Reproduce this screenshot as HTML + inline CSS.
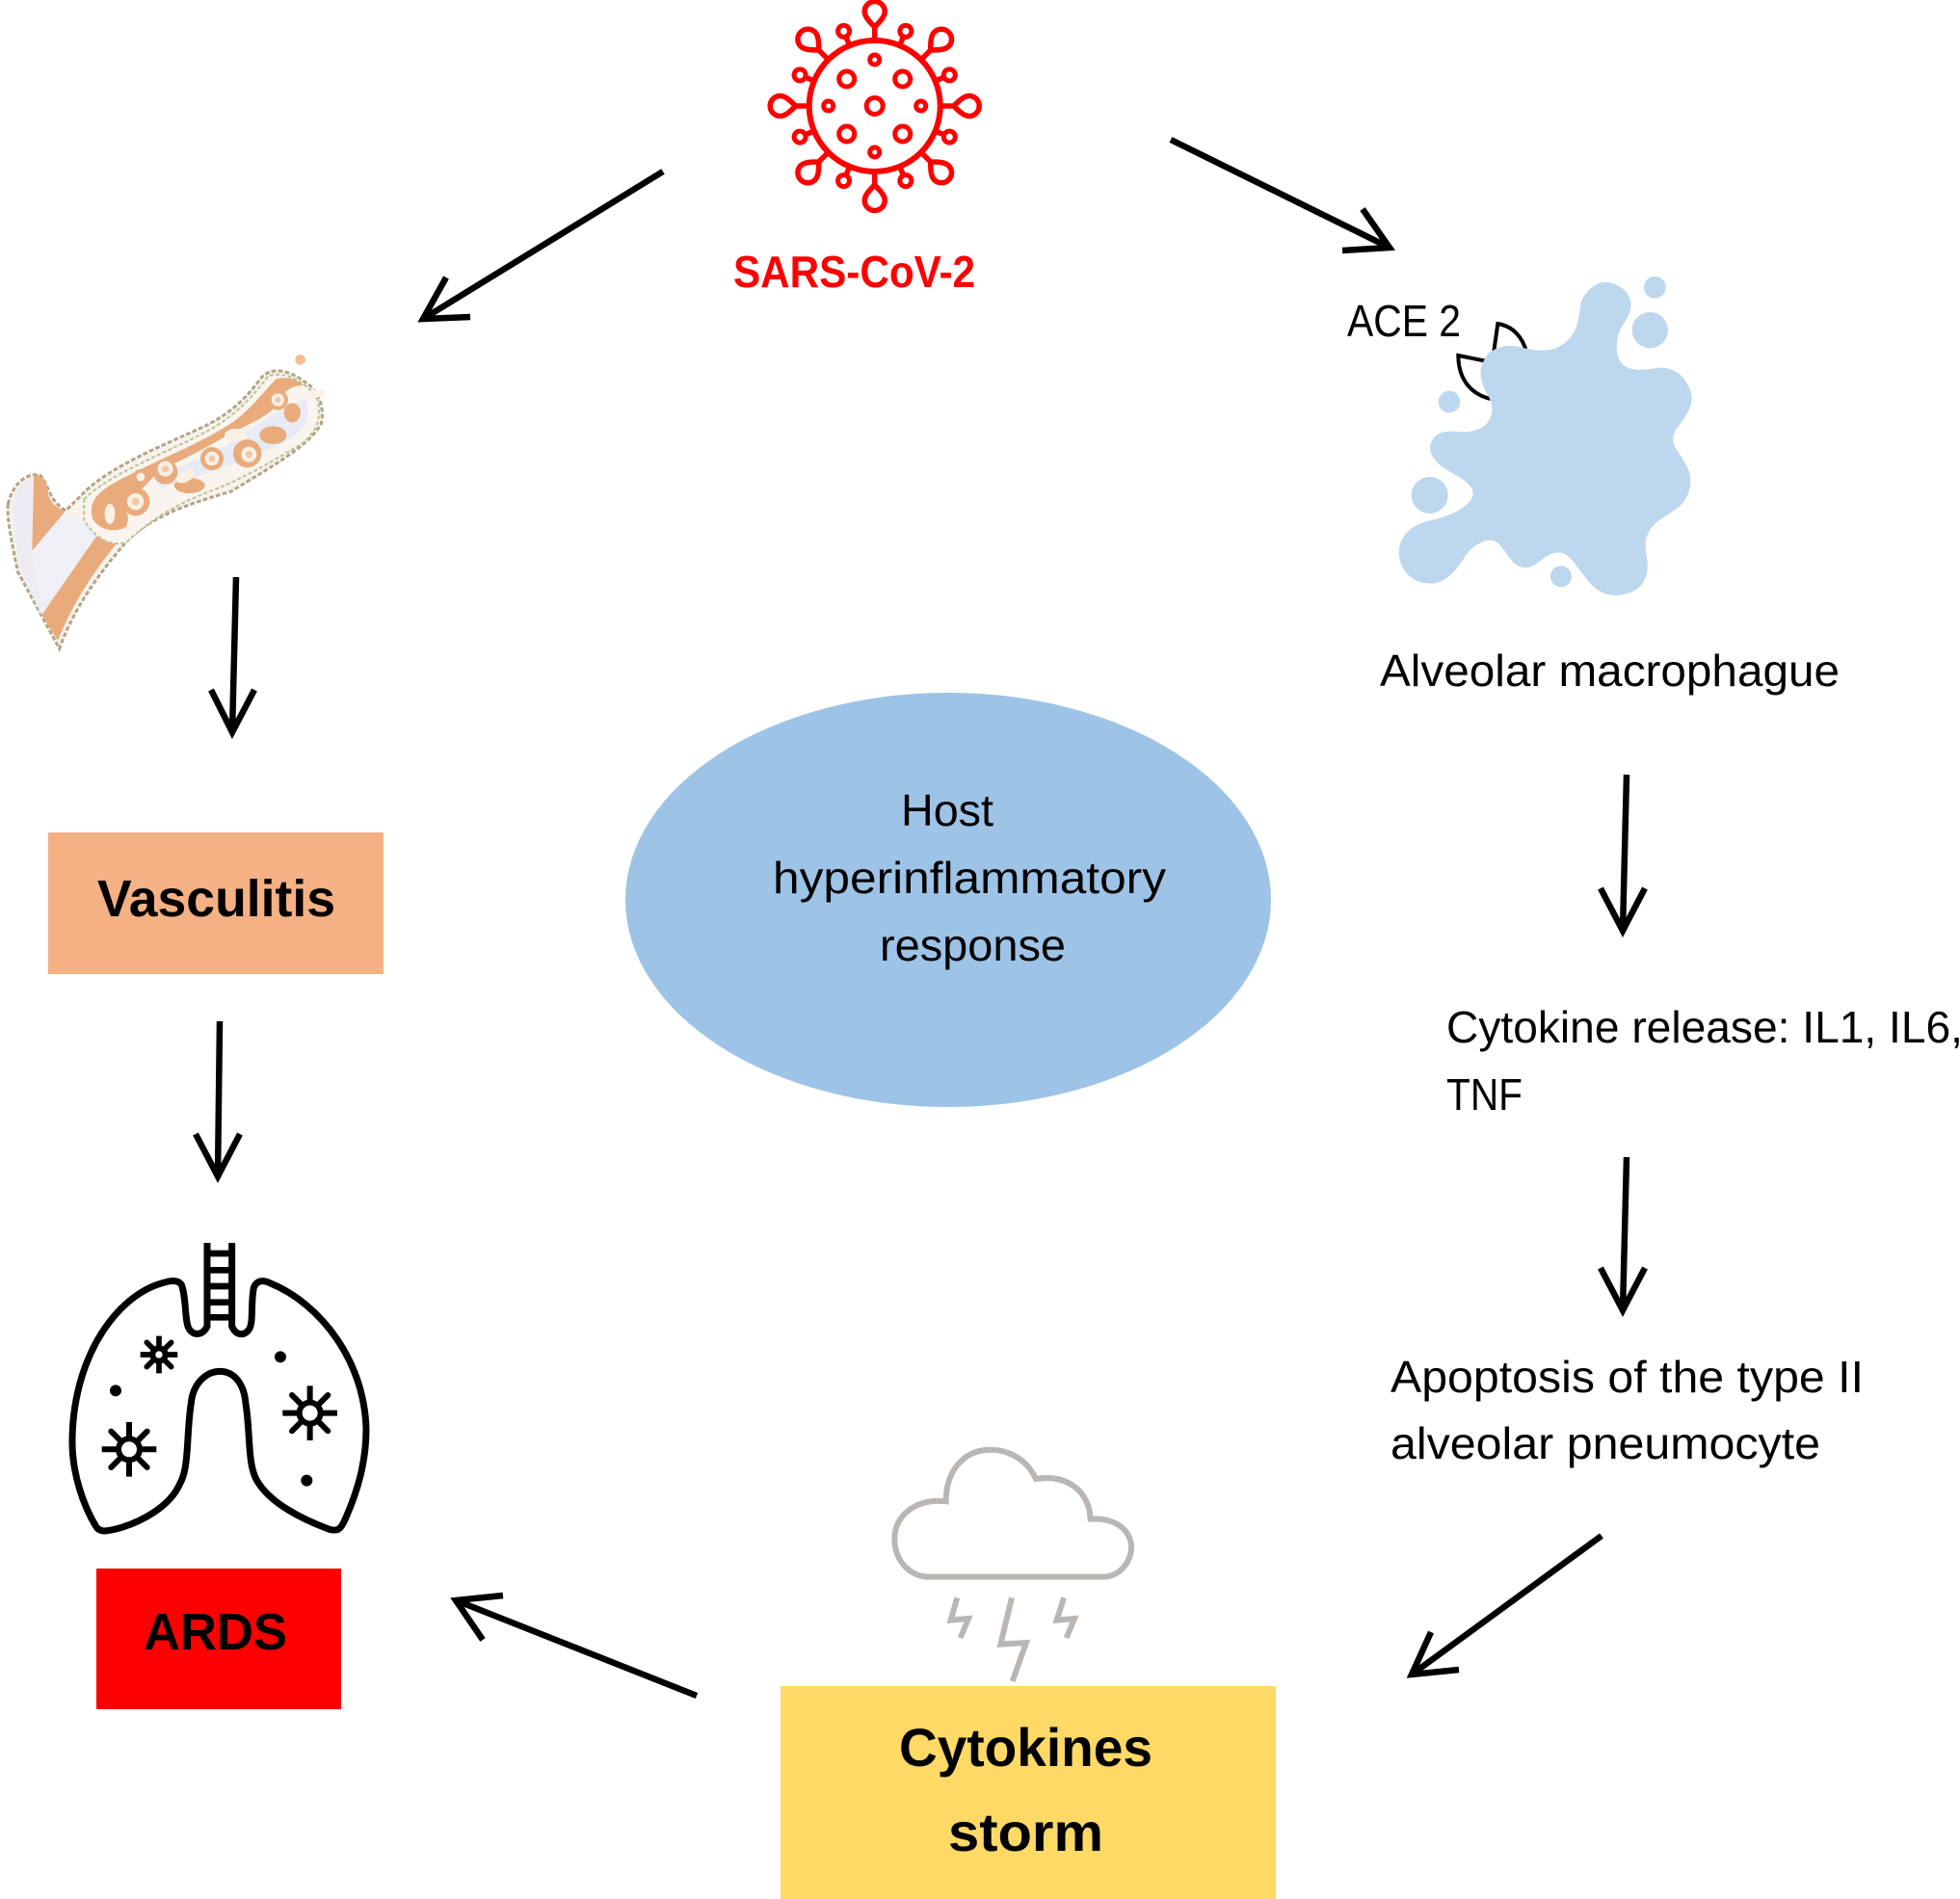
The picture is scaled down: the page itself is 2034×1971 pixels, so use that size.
<!DOCTYPE html>
<html><head><meta charset="utf-8"><style>html,body{margin:0;padding:0;background:#fff}svg{display:block}
text{font-family:"Liberation Sans",sans-serif;fill:#000}</style></head><body>
<svg width="2034" height="1971" viewBox="0 0 2034 1971" xmlns="http://www.w3.org/2000/svg">
<defs>
<g id="big"><path d="M0,-68V-82M0,-82C-6,-88 -10.5,-93 -10.5,-98A10 10 0 1 1 10.5,-98C10.5,-93 6,-88 0,-82Z" fill="none" stroke="#f00" stroke-width="5.5"/></g>
<g id="small"><path d="M0,-68V-78" stroke="#f00" stroke-width="5.5"/><circle cy="-84" r="6" fill="none" stroke="#f00" stroke-width="5"/></g>
<g id="germ" stroke="#000" fill="none"><path stroke-width="18" d="M0,-85V85M-85,0H85"/><path stroke-width="18" stroke-linecap="round" d="M-56,-56L56,56M-56,56L56,-56"/><circle r="42" fill="#000" stroke="none"/><circle r="24" fill="#fff" stroke="none"/></g>
<g id="germs" stroke="#000" fill="none"><path stroke-width="17" d="M0,-58V58M-58,0H58"/><path stroke-width="17" stroke-linecap="round" d="M-38,-38L38,38M-38,38L38,-38"/><circle r="29" fill="#000" stroke="none"/><circle r="11" fill="#fff" stroke="none"/></g>
</defs>
<rect width="2034" height="1971" fill="#fff"/>

<!-- virus -->
<g transform="translate(907.7,110)">
<circle r="68" fill="none" stroke="#f00" stroke-width="6"/>
<use href="#big"/><use href="#big" transform="rotate(45)"/><use href="#big" transform="rotate(90)"/><use href="#big" transform="rotate(135)"/><use href="#big" transform="rotate(180)"/><use href="#big" transform="rotate(225)"/><use href="#big" transform="rotate(270)"/><use href="#big" transform="rotate(315)"/>
<use href="#small" transform="rotate(22.5)"/><use href="#small" transform="rotate(67.5)"/><use href="#small" transform="rotate(112.5)"/><use href="#small" transform="rotate(157.5)"/><use href="#small" transform="rotate(202.5)"/><use href="#small" transform="rotate(247.5)"/><use href="#small" transform="rotate(292.5)"/><use href="#small" transform="rotate(337.5)"/>
<g fill="none" stroke="#f00" stroke-width="5">
<circle r="8.5"/><circle cx="-29" cy="-28" r="8"/><circle cx="29" cy="-28" r="8"/><circle cx="-29" cy="29" r="8"/><circle cx="29" cy="29" r="8"/>
<circle cy="-48" r="5"/><circle cy="48" r="5"/><circle cx="-48" r="5"/><circle cx="48" r="5"/>
</g></g>
<text x="761" y="298" font-size="46" font-weight="bold" style="fill:#f00" textLength="251" lengthAdjust="spacingAndGlyphs">SARS-CoV-2</text>

<!-- arrows -->
<g fill="none" stroke="#000" stroke-width="6.5">
<path d="M688,178L439,331M488,329L439,331L463,288"/>
<path d="M1215,145L1442,257M1393,260L1442,257L1414,217"/>
<path d="M245,599L241,760M219,716L241,760L264,716"/>
<path d="M228,1060L226,1221M203,1177L226,1221L249,1177"/>
<path d="M1688,804L1684,966M1661,922L1684,966L1707,922"/>
<path d="M1688,1201L1684,1360M1661,1316L1684,1360L1707,1316"/>
<path d="M1662,1594L1465,1738M1514,1733L1465,1738L1485,1694"/>
<path d="M723,1760L473,1661M522,1656L473,1661L501,1702"/>
</g>

<!-- vessel -->
<g transform="translate(0,350) scale(.3333)">
<path d="M25,520C40,450 90,420 125,430C150,450 150,510 205,540L265,480C350,400 500,340 620,285C700,250 760,200 810,130C840,90 900,100 950,140C1000,170 1010,230 1000,270C960,340 850,400 720,480C620,510 480,550 400,630C320,720 230,840 185,970L55,730C40,650 20,570 25,520Z" fill="#f7f2ec" stroke="#b3a585" stroke-width="9" stroke-dasharray="14 7"/>
<path d="M35,520C50,470 80,440 100,435L100,665L130,865L60,725Z" fill="#eeecf2"/>
<path d="M100,665L205,540L275,590L300,620L130,865Z" fill="#eef0f6"/>
<path d="M105,430C130,425 150,450 150,490C160,520 180,535 205,540L100,665Z" fill="#e9ab7c"/>
<path d="M300,620L365,640C300,720 230,820 180,945L130,865Z" fill="#e9ab7c"/>
<path d="M262,505C340,425 520,360 640,295C720,255 790,185 835,120C880,108 935,125 985,185C1005,240 990,295 935,335C850,385 750,445 640,485C540,525 460,575 395,638C345,655 295,625 262,570Z" fill="#faf4ee" stroke="#b9c39a" stroke-width="6" stroke-dasharray="12 7"/>
<path d="M500,470C620,430 830,370 925,300C965,270 965,220 950,190L850,240L700,340L480,440Z" fill="#e8eaf6"/>
<path d="M285,545C280,490 340,460 420,420C520,370 620,330 700,280C770,240 810,180 860,130C890,122 925,130 945,150C900,150 880,175 870,200C840,250 760,275 700,310C640,345 580,375 520,405C480,425 470,445 440,475C400,500 390,540 395,590C360,610 320,600 300,580C290,570 285,560 285,545Z" fill="#e9ab7c"/>
<g fill="#e9ab7c"><ellipse cx="910" cy="235" rx="26" ry="30"/><ellipse cx="850" cy="305" rx="42" ry="28"/><ellipse cx="590" cy="462" rx="48" ry="24"/><ellipse cx="375" cy="565" rx="24" ry="30"/><circle cx="770" cy="362" r="44"/><circle cx="660" cy="378" r="36"/><circle cx="422" cy="512" r="44"/><circle cx="515" cy="420" r="38"/><circle cx="865" cy="195" r="32"/><circle cx="438" cy="435" r="24"/></g>
<g fill="#faf0e6"><ellipse cx="735" cy="305" rx="36" ry="20"/><ellipse cx="342" cy="550" rx="16" ry="32"/><ellipse cx="578" cy="432" rx="32" ry="18" transform="rotate(-30 578 432)"/><ellipse cx="985" cy="175" rx="26" ry="13"/><circle cx="422" cy="512" r="26"/><circle cx="515" cy="410" r="24"/><circle cx="660" cy="378" r="22"/><circle cx="775" cy="365" r="24"/><circle cx="865" cy="195" r="20"/><circle cx="438" cy="435" r="13"/></g>
<g fill="#f2c8a6"><circle cx="422" cy="512" r="12"/><circle cx="515" cy="410" r="11"/><circle cx="660" cy="378" r="10"/><circle cx="775" cy="365" r="11"/><circle cx="865" cy="195" r="9"/></g>
<circle cx="935" cy="70" r="16" fill="#f0c09a"/>
</g>

<!-- macrophage -->
<g transform="translate(1380,270) scale(.3333)">
<path d="M510,290L523,198C570,205 600,240 612,285M490,315L400,297C400,360 430,415 500,432" fill="none" stroke="#000" stroke-width="12"/>
<path fill="#bdd7ee" stroke="#bdd7ee" stroke-width="14" stroke-linejoin="round" d="M500,295Q510,285 535,277Q560,270 590,277Q620,285 640,287Q660,290 690,285Q720,280 745,255Q770,230 777,200Q785,170 787,145Q790,120 810,100Q830,80 850,76Q870,72 895,86Q920,100 927,120Q935,140 927,160Q920,180 907,197Q895,215 890,237Q885,260 887,285Q890,310 905,327Q920,345 950,347Q980,350 1010,344Q1040,338 1065,349Q1090,360 1105,385Q1120,410 1120,430Q1120,450 1107,472Q1095,495 1080,512Q1065,530 1062,550Q1060,570 1072,590Q1085,610 1100,635Q1115,660 1116,680Q1118,700 1109,725Q1100,750 1080,765Q1060,780 1035,795Q1010,810 995,830Q980,850 977,875Q975,900 980,925Q985,950 980,975Q975,1000 957,1015Q940,1030 910,1035Q880,1040 855,1030Q830,1020 810,995Q790,970 770,942Q750,915 730,907Q710,900 690,907Q670,915 645,935Q620,955 600,950Q580,945 565,922Q550,900 535,882Q520,865 500,865Q480,865 455,880Q430,895 410,927Q390,960 365,980Q340,1000 310,1000Q280,1000 257,982Q235,965 226,937Q218,910 226,885Q235,860 257,842Q280,825 315,817Q350,810 385,795Q420,780 440,757Q460,735 450,712Q440,690 415,675Q390,660 365,645Q340,630 327,610Q315,590 322,570Q330,550 350,544Q370,538 400,541Q430,545 460,535Q490,525 502,502Q515,480 512,457Q510,435 497,415Q485,395 479,372Q473,350 481,327Q490,305 500,295Z"/>
<g fill="#bdd7ee"><circle cx="1012" cy="85" r="34"/><circle cx="997" cy="218" r="56"/><circle cx="372" cy="441" r="34"/><circle cx="311" cy="732" r="57"/><circle cx="720" cy="985" r="33"/></g>
</g>
<text x="1398" y="349" font-size="46" textLength="118" lengthAdjust="spacingAndGlyphs">ACE 2</text>
<text x="1432" y="712" font-size="46" textLength="477" lengthAdjust="spacingAndGlyphs">Alveolar macrophague</text>

<!-- ellipse -->
<ellipse cx="984" cy="934" rx="335" ry="215" fill="#9dc3e6"/>
<text x="935" y="857" font-size="46" textLength="96" lengthAdjust="spacingAndGlyphs">Host</text>
<text x="802" y="927" font-size="46" textLength="408" lengthAdjust="spacingAndGlyphs">hyperinflammatory</text>
<text x="913" y="997" font-size="46" textLength="193" lengthAdjust="spacingAndGlyphs">response</text>

<!-- right text -->
<text x="1501" y="1082" font-size="46" textLength="536" lengthAdjust="spacingAndGlyphs">Cytokine release: IL1, IL6,</text>
<text x="1501" y="1152" font-size="46" textLength="79" lengthAdjust="spacingAndGlyphs">TNF</text>
<text x="1443" y="1445" font-size="46" textLength="491" lengthAdjust="spacingAndGlyphs">Apoptosis of the type II</text>
<text x="1443" y="1514" font-size="46" textLength="446" lengthAdjust="spacingAndGlyphs">alveolar pneumocyte</text>

<!-- boxes -->
<rect x="50" y="864" width="348" height="147" fill="#f4b183"/>
<text x="101" y="951" font-size="54" font-weight="bold" textLength="247" lengthAdjust="spacingAndGlyphs">Vasculitis</text>
<rect x="100" y="1628" width="254" height="146" fill="#f00"/>
<text x="149" y="1712" font-size="54" font-weight="bold" textLength="149" lengthAdjust="spacingAndGlyphs">ARDS</text>
<rect x="810" y="1750" width="514" height="221" fill="#ffd966"/>
<text x="933" y="1833" font-size="56" font-weight="bold" textLength="263" lengthAdjust="spacingAndGlyphs">Cytokines</text>
<text x="984" y="1921" font-size="56" font-weight="bold" textLength="161" lengthAdjust="spacingAndGlyphs">storm</text>

<!-- lungs -->
<g transform="translate(50,1270) scale(.3333)">
<path d="M495,60V320C480,350 450,350 437,325C425,300 430,230 415,190C400,170 370,180 340,190C200,240 75,430 75,680C75,780 110,880 150,945C165,965 190,955 215,950C290,930 380,880 410,810C440,760 430,650 445,560C450,500 490,460 535,460C580,460 610,500 615,560C630,650 620,750 650,800C690,870 790,920 870,950C900,960 910,955 925,920C965,830 990,740 990,640C985,430 850,250 690,185C660,170 645,185 640,200C630,250 640,310 625,330C610,350 585,350 572,320V60" fill="none" stroke="#000" stroke-width="21"/>
<path d="M495,93H572M495,145H572M495,195H572M495,245H572M495,292H572" stroke="#000" stroke-width="20"/>
<use href="#germ" transform="translate(815,590)"/>
<use href="#germ" transform="translate(252,703)"/>
<use href="#germs" transform="translate(345,408)"/>
<circle cx="210" cy="520" r="18"/><circle cx="723" cy="415" r="18"/><circle cx="805" cy="800" r="18"/>
</g>

<!-- cloud -->
<g transform="translate(900,1480) scale(.3333)" fill="none" stroke="#b9b6b4" stroke-width="18">
<path d="M185,470H740C790,465 825,420 822,370C815,320 770,285 695,290C690,200 620,150 525,165C490,90 420,70 370,75C300,80 245,140 245,235C150,225 85,280 85,350C85,420 130,465 185,470Z"/>
<path d="M450,535L415,680L495,675L452,795M280,535L260,605L315,600L290,660M612,535L590,605L645,600L620,660"/>
</g>
</svg>
</body></html>
